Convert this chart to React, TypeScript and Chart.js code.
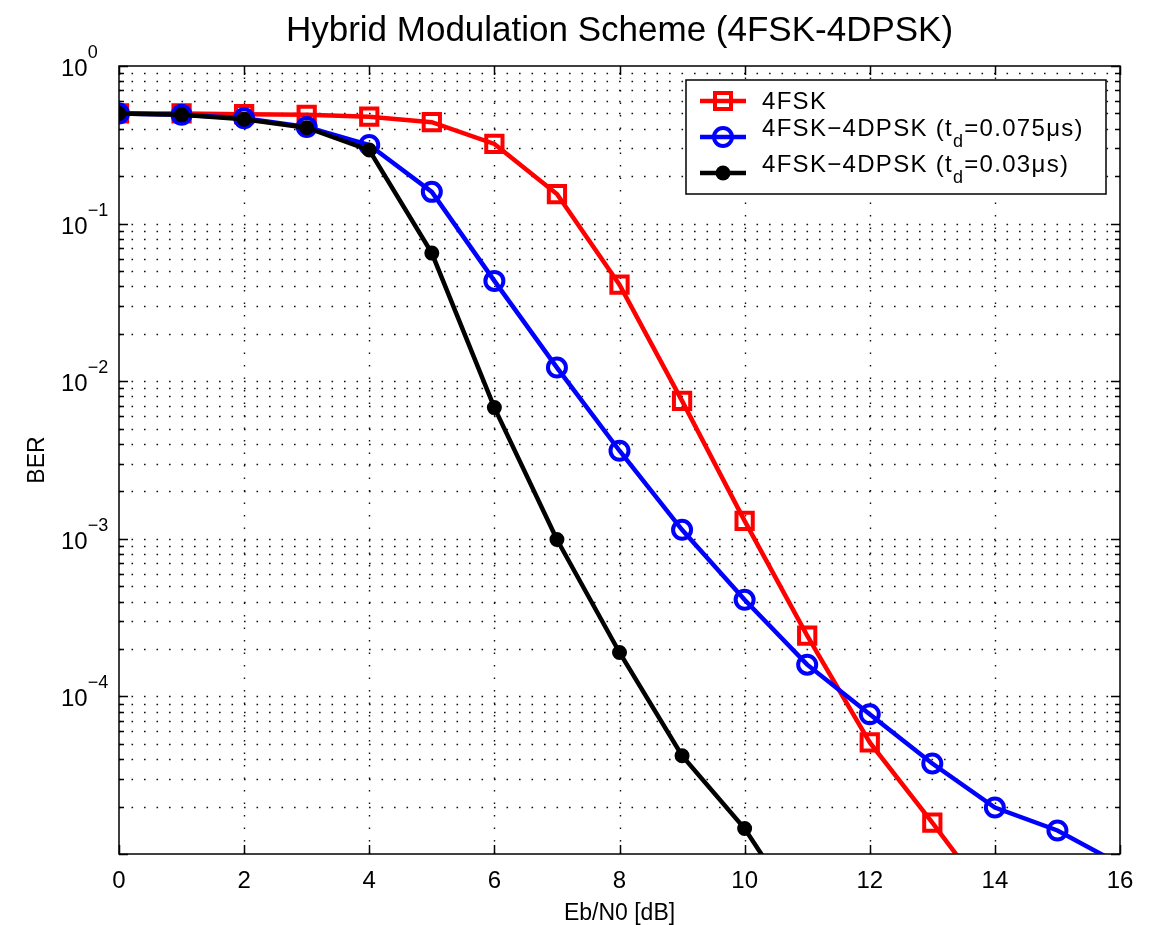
import React, { useEffect, useRef } from "react";
import { Chart, registerables } from "chart.js";

Chart.register(...registerables);

// ---- data ----
const ebN0 = [0, 1, 2, 3, 4, 5, 6, 7, 8, 9, 10, 11, 12, 13, 14, 15, 16];
const ber4FSK = [0.5, 0.5, 0.495, 0.49, 0.477, 0.44, 0.32, 0.154, 0.041, 0.0075, 0.0013, 2.43e-4, 5.1e-5, 1.58e-5, 4.7e-6];
const ber4DPSK075 = [0.5, 0.49, 0.466, 0.41, 0.315, 0.159, 0.0433, 0.0122, 0.00362, 0.00114, 4.1e-4, 1.59e-4, 7.7e-5, 3.75e-5, 1.97e-5, 1.41e-5, 8.6e-6];
const ber4DPSK03 = [0.5, 0.49, 0.46, 0.406, 0.293, 0.065, 0.0068, 9.9e-4, 1.9e-4, 4.2e-5, 1.45e-5, 3.6e-6];

const xTickValues = [0, 2, 4, 6, 8, 10, 12, 14, 16];
const yDecadeExps = [0, -1, -2, -3, -4, -5];
const yLabelExps = [0, -1, -2, -3, -4];
const minorMantissas = [2, 3, 4, 5, 6, 7, 8, 9];

const titleText = "Hybrid Modulation Scheme (4FSK-4DPSK)";
const xAxisLabel = "Eb/N0 [dB]";
const yAxisLabel = "BER";
const legendMain = ["4FSK", "4FSK\u22124DPSK (t", "4FSK\u22124DPSK (t"];
const legendSub = ["", "d", "d"];
const legendTail = ["", "=0.075\u03bcs)", "=0.03\u03bcs)"];
const seriesColors = ["#ff0000", "#0000ff", "#000000"];
const seriesStyles = ["rect", "circle", "circle"];

const FONT = '"Liberation Sans", Arial, sans-serif';

function pts(vals: number[]) {
  return vals.map((v, i) => ({ x: ebN0[i], y: v }));
}

function drawMarker(ctx: CanvasRenderingContext2D, idx: number, x: number, y: number) {
  ctx.save();
  ctx.setLineDash([]);
  ctx.lineWidth = 4;
  ctx.strokeStyle = seriesColors[idx];
  if (idx === 0) {
    ctx.strokeRect(x - 8, y - 8, 16, 16);
  } else if (idx === 1) {
    ctx.beginPath();
    ctx.arc(x, y, 9, 0, Math.PI * 2);
    ctx.stroke();
  } else {
    ctx.fillStyle = seriesColors[idx];
    ctx.beginPath();
    ctx.arc(x, y, 7.5, 0, Math.PI * 2);
    ctx.fill();
  }
  ctx.restore();
}

const matlabPlugin = {
  id: "matlabAxes",
  beforeDatasetsDraw(chart: any) {
    const { ctx, chartArea: a, scales } = chart;
    const xs = scales.x;
    const ys = scales.y;
    ctx.save();
    ctx.fillStyle = "#fff";
    ctx.fillRect(a.left, a.top, a.right - a.left, a.bottom - a.top);
    ctx.strokeStyle = "#111";
    ctx.lineWidth = 1.4;
    ctx.setLineDash([1.6, 10.9]);
    for (const v of xTickValues) {
      if (v === 0 || v === 16) continue;
      const px = Math.round(xs.getPixelForValue(v)) + 0.5;
      ctx.beginPath();
      ctx.moveTo(px, a.bottom);
      ctx.lineTo(px, a.top);
      ctx.stroke();
    }
    for (const e of yDecadeExps) {
      const vals: number[] = [Math.pow(10, e)];
      if (e < 0) for (const m of minorMantissas) vals.push(m * Math.pow(10, e));
      for (const v of vals) {
        if (v <= 1e-5 || v >= 1) continue;
        const py = Math.round(ys.getPixelForValue(v)) + 0.5;
        ctx.beginPath();
        ctx.moveTo(a.left, py);
        ctx.lineTo(a.right, py);
        ctx.stroke();
      }
    }
    ctx.setLineDash([]);
    ctx.strokeStyle = "#000";
    ctx.lineWidth = 1.5;
    for (const v of xTickValues) {
      const px = Math.round(xs.getPixelForValue(v)) + 0.5;
      ctx.beginPath();
      ctx.moveTo(px, a.bottom);
      ctx.lineTo(px, a.bottom - 9);
      ctx.moveTo(px, a.top);
      ctx.lineTo(px, a.top + 9);
      ctx.stroke();
    }
    for (const e of yDecadeExps) {
      const vals: { v: number; len: number }[] = [{ v: Math.pow(10, e), len: 9 }];
      if (e < 0) for (const m of minorMantissas) vals.push({ v: m * Math.pow(10, e), len: 5 });
      for (const t of vals) {
        if (t.v < 1e-5 || t.v > 1) continue;
        const py = Math.round(ys.getPixelForValue(t.v)) + 0.5;
        ctx.beginPath();
        ctx.moveTo(a.left, py);
        ctx.lineTo(a.left + t.len, py);
        ctx.moveTo(a.right, py);
        ctx.lineTo(a.right - t.len, py);
        ctx.stroke();
      }
    }
    ctx.restore();
  },
  afterDatasetsDraw(chart: any) {
    const { ctx, chartArea: a, scales } = chart;
    const xs = scales.x;
    const ys = scales.y;
    ctx.save();
    ctx.strokeStyle = "#000";
    ctx.lineWidth = 1.5;
    ctx.strokeRect(a.left, a.top, a.right - a.left, a.bottom - a.top);

    ctx.fillStyle = "#000";
    ctx.font = "24px " + FONT;
    ctx.textAlign = "center";
    ctx.textBaseline = "alphabetic";
    for (const v of xTickValues) {
      ctx.fillText(String(v), xs.getPixelForValue(v), a.bottom + 34);
    }
    for (const e of yLabelExps) {
      const py = ys.getPixelForValue(Math.pow(10, e));
      ctx.textAlign = "left";
      ctx.font = "24px " + FONT;
      ctx.fillText("10", 61, py + 10);
      const w = ctx.measureText("10").width;
      ctx.font = "18px " + FONT;
      ctx.fillText(e === 0 ? "0" : "\u2212" + String(-e), 61 + w, py - 8);
    }
    ctx.font = "23px " + FONT;
    ctx.textAlign = "center";
    ctx.fillText(xAxisLabel, (a.left + a.right) / 2, a.bottom + 66);
    ctx.save();
    ctx.translate(44, (a.top + a.bottom) / 2);
    ctx.rotate(-Math.PI / 2);
    ctx.fillText(yAxisLabel, 0, 0);
    ctx.restore();
    ctx.font = "35px " + FONT;
    ctx.textAlign = "center";
    ctx.fillText(titleText, (a.left + a.right) / 2, 41);

    // legend
    const bx = 686, by = 80, bw = 420, bh = 114;
    ctx.fillStyle = "#fff";
    ctx.fillRect(bx, by, bw, bh);
    ctx.strokeStyle = "#000";
    ctx.lineWidth = 1.5;
    ctx.strokeRect(bx, by, bw, bh);
    const rowY = [101, 137, 173];
    for (let i = 0; i < 3; i++) {
      ctx.strokeStyle = seriesColors[i];
      ctx.lineWidth = 4.5;
      ctx.beginPath();
      ctx.moveTo(700, rowY[i]);
      ctx.lineTo(746, rowY[i]);
      ctx.stroke();
      drawMarker(ctx, i, 723, rowY[i]);
      ctx.fillStyle = "#000";
      ctx.textAlign = "left";
      ctx.font = "24px " + FONT;
      (ctx as any).letterSpacing = "1.3px";
      const base = i === 0 ? rowY[i] + 8 : rowY[i] - 1;
      ctx.fillText(legendMain[i], 762, base);
      let x = 762 + ctx.measureText(legendMain[i]).width;
      if (legendSub[i]) {
        ctx.font = "18px " + FONT;
        ctx.fillText(legendSub[i], x, base + 11);
        x += ctx.measureText(legendSub[i]).width;
        ctx.font = "24px " + FONT;
        ctx.fillText(legendTail[i], x, base);
      }
      (ctx as any).letterSpacing = "0px";
    }
    ctx.restore();
  },
};

export default function App() {
  const ref = useRef<HTMLCanvasElement | null>(null);
  useEffect(() => {
    if (!ref.current) return;
    const chart = new Chart(ref.current, {
      type: "line",
      data: {
        datasets: [
          {
            label: "4FSK",
            data: pts(ber4FSK),
            borderColor: seriesColors[0],
            backgroundColor: "rgba(0,0,0,0)",
            borderWidth: 4.5,
            pointStyle: seriesStyles[0] as any,
            pointRadius: 11.5,
            pointBorderWidth: 4,
            pointBorderColor: seriesColors[0],
            pointBackgroundColor: "rgba(0,0,0,0)",
            order: 3,
          },
          {
            label: "4FSK-4DPSK (td=0.075us)",
            data: pts(ber4DPSK075),
            borderColor: seriesColors[1],
            backgroundColor: "rgba(0,0,0,0)",
            borderWidth: 4.5,
            pointStyle: seriesStyles[1] as any,
            pointRadius: 9,
            pointBorderWidth: 4,
            pointBorderColor: seriesColors[1],
            pointBackgroundColor: "rgba(0,0,0,0)",
            order: 2,
          },
          {
            label: "4FSK-4DPSK (td=0.03us)",
            data: pts(ber4DPSK03),
            borderColor: seriesColors[2],
            backgroundColor: seriesColors[2],
            borderWidth: 4.5,
            pointStyle: seriesStyles[2] as any,
            pointRadius: 6.5,
            pointBorderWidth: 2,
            pointBorderColor: seriesColors[2],
            pointBackgroundColor: seriesColors[2],
            order: 1,
          },
        ],
      },
      options: {
        animation: false,
        responsive: false,
        devicePixelRatio: 1,
        layout: { padding: { left: 119, right: 36, top: 66, bottom: 71 } },
        plugins: { legend: { display: false }, tooltip: { enabled: false }, title: { display: false } },
        elements: { line: { tension: 0 } },
        scales: {
          x: { type: "linear", min: 0, max: 16, display: false },
          y: { type: "logarithmic", min: 1e-5, max: 1, display: false },
        },
      },
      plugins: [matlabPlugin],
    });
    return () => chart.destroy();
  }, []);
  return (
    <div style={{ position: "fixed", left: 0, top: 0, width: 1156, height: 925, background: "#fff" }}>
      <canvas ref={ref} width={1156} height={925} style={{ width: 1156, height: 925, display: "block" }} />
    </div>
  );
}
